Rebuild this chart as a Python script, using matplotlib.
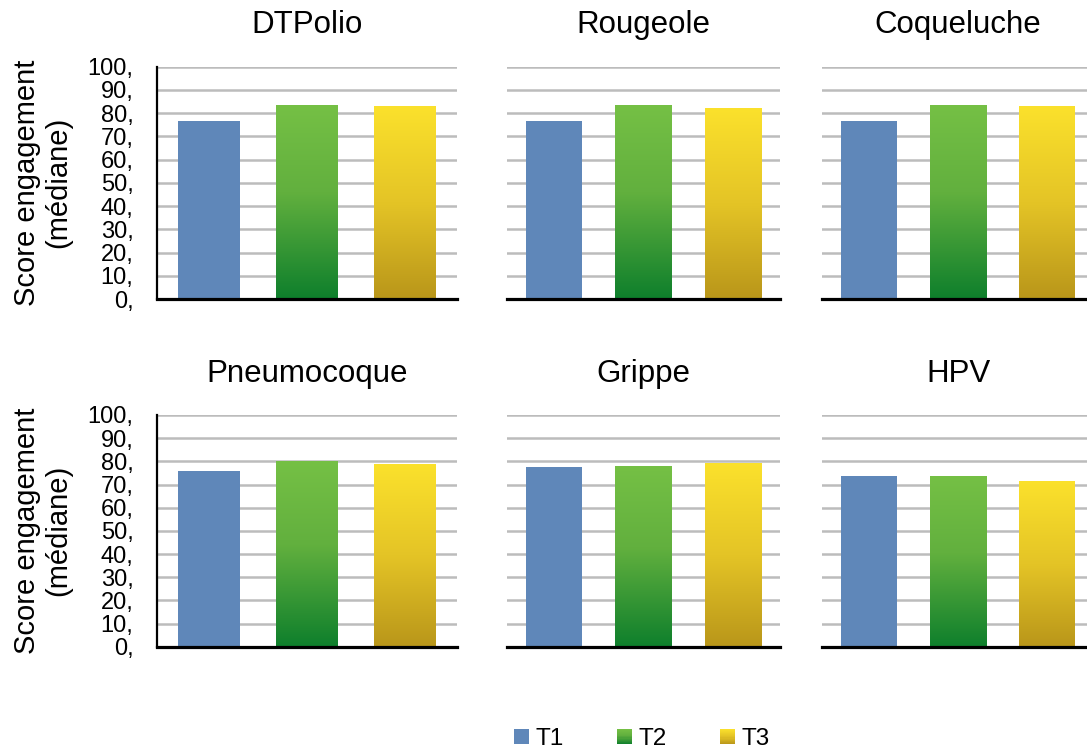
import numpy as np
import matplotlib
matplotlib.use("Agg")
import matplotlib.pyplot as plt
from matplotlib.colors import LinearSegmentedColormap
from matplotlib.patches import Rectangle
from matplotlib.legend_handler import HandlerBase

plt.rcParams["font.family"] = ["Liberation Sans", "DejaVu Sans"]

# Median engagement score per vaccine and time point
vaccines = ["DTPolio", "Rougeole", "Coqueluche", "Pneumocoque", "Grippe", "HPV"]
periods = ["T1", "T2", "T3"]
t1_scores = [76.7, 76.7, 76.7, 75.8, 77.6, 73.7]
t2_scores = [83.1, 83.1, 83.1, 80.1, 78.0, 73.7]
t3_scores = [82.7, 81.9, 82.7, 78.8, 79.4, 71.5]
y_ticks = [0, 10, 20, 30, 40, 50, 60, 70, 80, 90, 100]
y_tick_labels = [f"{v}," for v in y_ticks]

# Fill styles: solid blue, green and gold vertical gradients (bottom -> top)
blue = "#5f87b9"
green_cmap = LinearSegmentedColormap.from_list(
    "green", [(0.0, "#0e7f2c"), (0.55, "#62b03e"), (1.0, "#75c045")])
gold_cmap = LinearSegmentedColormap.from_list(
    "gold", [(0.0, "#b9961a"), (0.5, "#e4c426"), (1.0, "#fbe12c")])
fills = [blue, green_cmap, gold_cmap]

W, H = 1087, 751
fig = plt.figure(figsize=(W / 100, H / 100), dpi=100)

col_px = [(157, 457), (507, 780), (822, 1094)]
row_px = [(66.7, 299), (415, 646.7)]

grad = np.linspace(0, 1, 256).reshape(-1, 1)
bar_w = 0.63

for i, name in enumerate(vaccines):
    r, c = divmod(i, 3)
    x0, x1 = col_px[c]
    ytop, ybot = row_px[r]
    ax = fig.add_axes([x0 / W, 1 - ybot / H, (x1 - x0) / W, (ybot - ytop) / H])
    vals = [t1_scores[i], t2_scores[i], t3_scores[i]]
    for k, v in enumerate(vals):
        f = fills[k]
        if isinstance(f, str):
            ax.bar(k, v, width=bar_w, color=f, zorder=3)
        else:
            ax.imshow(grad, cmap=f, origin="lower", aspect="auto",
                      extent=(k - bar_w / 2, k + bar_w / 2, 0, v),
                      zorder=3, interpolation="bilinear")
    ax.set_xlim(-0.53, 2.53)
    ax.set_ylim(0, 100)
    ax.set_xticks([])
    ax.set_yticks(y_ticks[1:])
    ax.yaxis.grid(True, color="#bcbcbc", linewidth=1.8, zorder=0)
    ax.set_axisbelow(True)
    for s in ["top", "right"]:
        ax.spines[s].set_visible(False)
    ax.spines["bottom"].set_linewidth(2.3)
    ax.spines["bottom"].set_color("black")
    ax.spines["bottom"].set_zorder(4)
    ax.tick_params(axis="y", length=0)
    if c == 0:
        ax.spines["left"].set_linewidth(1.6)
        ax.spines["left"].set_color("black")
        ax.set_yticks(y_ticks)
        ax.set_yticklabels(y_tick_labels, fontsize=17)
        ax.tick_params(axis="y", pad=17)
        ax.set_ylabel("Score engagement\n(médiane)", fontsize=21,
                      multialignment="center", labelpad=11, linespacing=1.15)
    else:
        ax.spines["left"].set_visible(False)
        ax.set_yticklabels([])
    ax.set_title(name, fontsize=22.5, pad=24)


class GradientSquare(HandlerBase):
    def __init__(self, fill):
        super().__init__()
        self.fill = fill

    def create_artists(self, legend, orig_handle, xdescent, ydescent,
                       width, height, fontsize, trans):
        side = min(width, height)
        x = -xdescent + (width - side) / 2
        y = -ydescent + (height - side) / 2
        if isinstance(self.fill, str):
            return [Rectangle((x, y), side, side, facecolor=self.fill,
                              edgecolor="none", transform=trans)]
        n = 14
        arts = []
        for j in range(n):
            arts.append(Rectangle((x, y + side * j / n), side, side / n + 0.3,
                                  facecolor=self.fill((j + 0.5) / n),
                                  edgecolor="none", transform=trans))
        return arts


handles = [Rectangle((0, 0), 1, 1) for _ in periods]
handler_map = {h: GradientSquare(f) for h, f in zip(handles, fills)}
fig.legend(handles, periods, loc="center", ncol=3, frameon=False,
           bbox_to_anchor=(642 / W, 1 - 739 / H), fontsize=17.5,
           handlelength=0.6, handleheight=0.6, handletextpad=0.27,
           columnspacing=2.2, handler_map=handler_map)

fig.savefig("out.png", dpi=100)
